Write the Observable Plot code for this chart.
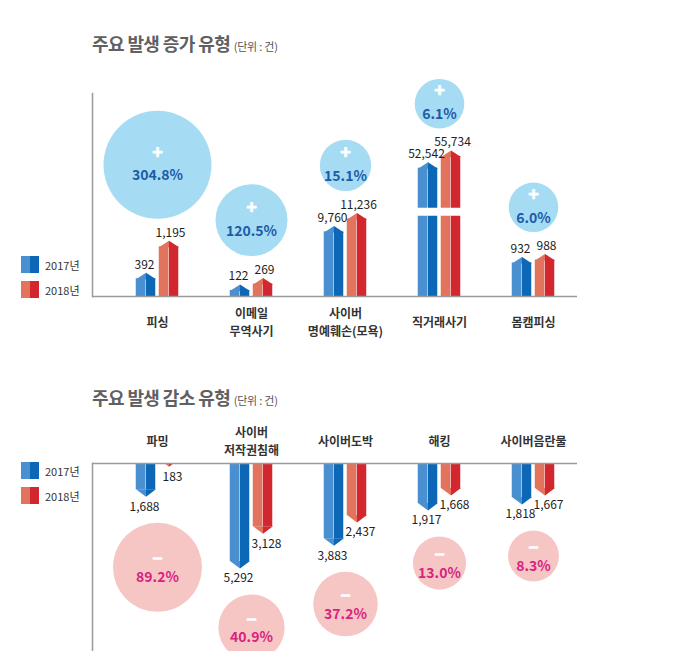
<!DOCTYPE html>
<html><head><meta charset="utf-8">
<script src="https://cdn.jsdelivr.net/npm/d3@7"></script>
<script src="https://cdn.jsdelivr.net/npm/@observablehq/plot@0.6"></script>
<style>
body{margin:0;background:#fff;font-family:"Noto Sans CJK KR","Noto Sans",sans-serif;}
#wrap{position:relative;width:680px;height:651px;overflow:hidden;}
.title{position:absolute;left:92px;font-size:18px;font-weight:bold;color:#606060;line-height:22px;white-space:nowrap;letter-spacing:-0.6px}
.title small{font-size:11px;font-weight:normal;color:#555;letter-spacing:-0.2px}
.legend{position:absolute;left:21px;font-size:11px;color:#333}
.item{display:flex;align-items:center;height:17px;margin-bottom:8px}
.sw{display:inline-block;width:18px;height:17px;margin-right:6px}
.chart{position:absolute;left:0}
</style></head>
<body><div id="wrap">
<div class="title" style="top:32px">주요 발생 증가 유형 <small>(단위 : 건)</small></div>
<div class="chart" id="c1" style="top:60px"></div>
<div class="title" style="top:386px">주요 발생 감소 유형 <small>(단위 : 건)</small></div>
<div class="chart" id="c2" style="top:410px"></div>
<div class="legend" id="l1" style="top:256px"></div>
<div class="legend" id="l2" style="top:462px"></div>
</div>
<script>
// ---- data ----
const years = ["2017년", "2018년"];
const incCats = ["피싱", "이메일\n무역사기", "사이버\n명예훼손(모욕)", "직거래사기", "몸캠피싱"];
const inc2017 = [392, 122, 9760, 52542, 932];
const inc2018 = [1195, 269, 11236, 55734, 988];
const incPct = [304.8, 120.5, 15.1, 6.1, 6.0];
const decCats = ["파밍", "사이버\n저작권침해", "사이버도박", "해킹", "사이버음란물"];
const dec2017 = [1688, 5292, 3883, 1917, 1818];
const dec2018 = [183, 3128, 2437, 1668, 1667];
const decPct = [89.2, 40.9, 37.2, 13.0, 8.3];
const axisBreakValue = 11400; // scale break drawn on the 직거래사기 bars

// ---- styling ----
const colors = {"2017년": ["#4a8fd0", "#0c68b6"], "2018년": ["#e2735d", "#d3272f"]};
const FONT = '"Noto Sans CJK KR","Noto Sans",sans-serif';
const STEP = 94.5, HALF = STEP / 2;
const pieces = [
  {year: 0, shade: 0, l: -21.5, r: -11.5},
  {year: 0, shade: 1, l: -11.5, r: -1.5},
  {year: 1, shade: 0, l: 1.5, r: 11.5},
  {year: 1, shade: 1, l: 11.5, r: 21.5}
];
const fmt = d3.format(",");

function tipSymbol(side, up, h) {
  const sh = up ? h + 0.5 : -(h + 0.5);
  return {draw(ctx) { ctx.moveTo(0, 0); ctx.lineTo(side * 10, sh); ctx.lineTo(0, sh); ctx.closePath(); }};
}

function rowsOf(cats, a, b) {
  return cats.flatMap((c, i) => [{cat: c, year: years[0], value: a[i]}, {cat: c, year: years[1], value: b[i]}]);
}

function chart(cfg) {
  const {cats, a, b, pct, up, yOpts, rOpts, height, marginTop, marginBottom} = cfg;
  const data = rowsOf(cats, a, b);
  const ys = Plot.scale({y: yOpts});
  const rs = Plot.scale({r: rOpts});
  const bub = cats.map((c, i) => {
    const tip = ys.apply(Math.max(a[i], b[i]));
    const r = rs.apply(pct[i]);
    const cy = up ? tip - 22 - r : tip + 26 + r;
    return {cat: c, pct: pct[i], by: ys.invert(cy)};
  });
  const tipH = up ? 6 : 7;
  const marks = [
    Plot.dot(bub, {x: "cat", y: "by", r: "pct", fill: cfg.bubbleFill, stroke: "none"}),
    Plot.text(bub, {x: "cat", y: "by", text: () => up ? "+" : "—", dy: up ? -12 : -9,
      fill: "white", stroke: "white", strokeWidth: up ? 0.8 : 1.6,
      fontSize: up ? 18 : 10, fontWeight: "bold"}),
    Plot.text(bub, {x: "cat", y: "by", text: d => d.pct.toFixed(1) + "%", dy: up ? 11 : 10,
      fill: cfg.pctColor, fontSize: 14, fontWeight: "bold"})
  ];
  for (const p of pieces) {
    const yr = years[p.year];
    const sub = data.filter(d => d.year === yr);
    marks.push(Plot.rectY(sub, {x: "cat", y: "value", fill: colors[yr][p.shade],
      insetLeft: HALF + p.l, insetRight: HALF - p.r,
      insetTop: up ? tipH : 0, insetBottom: up ? 0 : tipH}));
    marks.push(Plot.dot(sub, {x: "cat", y: "value", symbol: tipSymbol(p.shade === 0 ? -1 : 1, up, tipH),
      fill: colors[yr][p.shade], stroke: "none", dx: p.year === 0 ? -11.5 : 11.5, clip: !up}));
  }
  if (cfg.breaks) marks.push(Plot.tickY(cfg.breaks, {x: "cat", y: "v", stroke: "white", strokeWidth: 8}));
  for (let k = 0; k < 2; k++) {
    marks.push(Plot.text(data.filter(d => d.year === years[k]), {x: "cat", y: "value",
      text: d => fmt(d.value), dx: k === 0 ? -13 : (up ? 13 : 15), dy: up ? -8 : 10,
      fontSize: 12, fill: "#222"}));
  }
  marks.push(Plot.ruleY([0], {stroke: "#9a9a9a", strokeWidth: 1.5}));
  marks.push(Plot.frame({anchor: "left", stroke: "#9a9a9a", strokeWidth: 1.5}));
  marks.push(Plot.text(cats, {x: d => d, text: d => d, frameAnchor: up ? "bottom" : "top",
    dy: up ? 25 : -23, lineAnchor: "middle", lineHeight: 1.45,
    fontSize: 12, fontWeight: "bold", fill: "#333"}));
  return Plot.plot({
    width: 680, height, marginLeft: 92, marginRight: 103, marginTop, marginBottom,
    x: {type: "band", domain: cats, range: [108.25, 580.75], padding: 0, axis: null},
    y: {...yOpts, axis: null},
    r: rOpts,
    style: {fontFamily: FONT, background: "transparent", overflow: "visible"},
    marks
  });
}

document.getElementById("c1").append(chart({
  cats: incCats, a: inc2017, b: inc2018, pct: incPct, up: true,
  // piecewise (broken) scale, as in the original infographic
  yOpts: {type: "linear",
    domain: [0, 120, 400, 950, 1200, 9000, 12000, 50000, 56000],
    range: [236, 224, 212, 196, 180, 172, 146, 111, 89]},
  rOpts: {type: "linear", domain: [0, 304.8], range: [24.2, 54]},
  height: 285, marginTop: 33, marginBottom: 49,
  bubbleFill: "#a6dbf4", pctColor: "#1b5ca8",
  breaks: [{cat: incCats[3], v: axisBreakValue}]
}));
document.getElementById("c2").append(chart({
  cats: decCats, a: dec2017, b: dec2018, pct: decPct, up: false,
  yOpts: {type: "linear", domain: [0, 1600, 2000, 5292], range: [53, 81, 105, 158]},
  rOpts: {type: "linear", domain: [0, 89.2], range: [23.5, 44.5]},
  height: 241, marginTop: 53, marginBottom: 0,
  bubbleFill: "#f6c6c5", pctColor: "#d8237f"
}));

for (const id of ["l1", "l2"]) {
  document.getElementById(id).innerHTML = years.map(y =>
    `<div class="item"><span class="sw" style="background:linear-gradient(90deg, ${colors[y][0]} 50%, ${colors[y][1]} 50%)"></span>${y}</div>`).join("");
}
</script>
</body></html>
